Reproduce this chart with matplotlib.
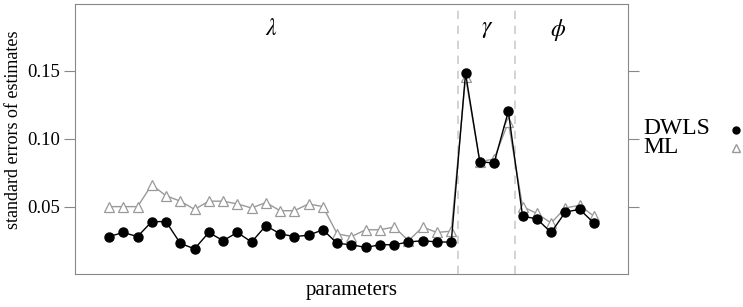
import matplotlib.pyplot as plt
from matplotlib.lines import Line2D
import numpy as np

plt.rcParams['font.family'] = ['Liberation Serif', 'DejaVu Serif']
plt.rcParams['mathtext.fontset'] = 'stix'

# standard errors, lambda (25), gamma (4), phi (6)
dwls_lambda = [0.028, 0.031, 0.028, 0.039, 0.039, 0.023, 0.019, 0.031, 0.025, 0.031,
               0.024, 0.036, 0.030, 0.028, 0.029, 0.033, 0.023, 0.022, 0.020, 0.022,
               0.022, 0.024, 0.025, 0.024, 0.024]
ml_lambda = [0.050, 0.050, 0.050, 0.066, 0.058, 0.054, 0.048, 0.054, 0.054, 0.052,
             0.049, 0.053, 0.047, 0.047, 0.052, 0.050, 0.030, 0.028, 0.033, 0.033,
             0.035, 0.025, 0.035, 0.031, 0.032]
dwls_gamma = [0.148, 0.083, 0.082, 0.120]
ml_gamma = [0.145, 0.083, 0.085, 0.112]
dwls_phi = [0.043, 0.041, 0.031, 0.046, 0.048, 0.038]
ml_phi = [0.050, 0.045, 0.038, 0.049, 0.051, 0.043]

dwls = dwls_lambda + dwls_gamma + dwls_phi
ml = ml_lambda + ml_gamma + ml_phi
x = np.arange(1, len(dwls) + 1)

n_lam, n_gam = len(dwls_lambda), len(dwls_gamma)

fig = plt.figure(figsize=(7.43, 3.07), dpi=100)
ax = fig.add_axes([0.101, 0.1075, 0.744, 0.88])

ax.plot(x, ml, color='#999999', lw=1, marker='^', ms=7, mfc='white', mec='#999999', mew=0.9, zorder=2)
ax.plot(x, dwls, color='black', lw=1, marker='o', ms=6.5, mfc='black', mec='black', zorder=3)

for b in [n_lam + 0.5, n_lam + n_gam + 0.5]:
    ax.axvline(b, color='#cccccc', ls=(0, (5, 4)), lw=1.2, zorder=1)

ax.text(12.4, 0.18, r'$\lambda$', ha='center', va='center', fontsize=17)
ax.text(n_lam + (n_gam + 1) / 2, 0.18, r'$\gamma$', ha='center', va='center', fontsize=17)
ax.text(n_lam + n_gam + 3.5, 0.18, r'$\phi$', ha='center', va='center', fontsize=17)

pad = (len(x) - 1) * 0.07
ax.set_xlim(1 - pad, len(x) + pad)
ax.set_ylim(0.0005, 0.199)
ax.set_xticks([])
ax.set_yticks([0.05, 0.10, 0.15])
ax.set_yticklabels(['0.05', '0.10', '0.15'])
ax.tick_params(axis='y', left=True, right=True, direction='out', length=8,
               color='#888888', labelsize=13.5, pad=3)
for s in ax.spines.values():
    s.set_color('#888888')
ax.set_ylabel('standard errors of estimates', fontsize=13)
ax.yaxis.set_label_coords(-0.096, 0.535)
ax.set_xlabel('parameters', fontsize=15, labelpad=5)

# legend on the right
fig.text(0.866, 0.583, 'DWLS', fontsize=17, ha='left', va='center')
fig.text(0.866, 0.52, 'ML', fontsize=17, ha='left', va='center')
fig.add_artist(Line2D([0.99], [0.578], marker='o', ms=5, color='black', transform=fig.transFigure))
fig.add_artist(Line2D([0.99], [0.518], marker='^', ms=6, mfc='white', mec='#999999',
                      color='#999999', transform=fig.transFigure))

fig.savefig('out.png', dpi=100)
